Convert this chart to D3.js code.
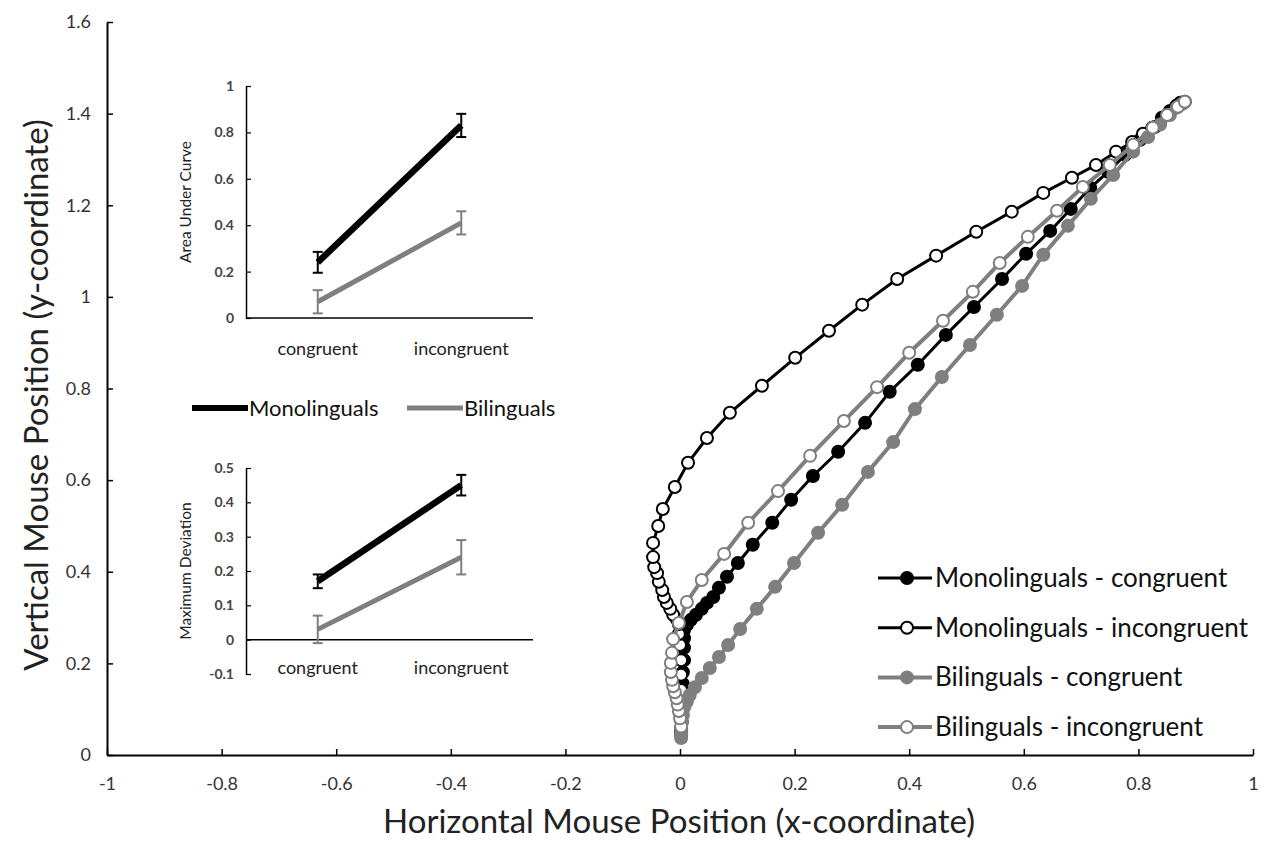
<!DOCTYPE html>
<html>
<head>
<meta charset="utf-8">
<script src="https://cdn.jsdelivr.net/npm/d3@7"></script>
<style>
  body { margin: 0; background: #fff; }
  text { font-family: Lato, "Open Sans", sans-serif; }
</style>
</head>
<body>
<div id="chart"></div>
<script>
// trajectories, [x, y] in normalised mouse coordinates
var monoCong = [[0.002,0.050],[0.002,0.059],[0.003,0.072],[0.003,0.090],[0.005,0.109],[0.005,0.131],[0.005,0.155],[0.005,0.181],[0.007,0.207],[0.007,0.234],[0.007,0.255],[0.007,0.273],[0.012,0.284],[0.019,0.295],[0.028,0.306],[0.038,0.319],[0.047,0.332],[0.058,0.345],[0.068,0.365],[0.082,0.389],[0.101,0.419],[0.127,0.459],[0.161,0.507],[0.194,0.557],[0.232,0.609],[0.276,0.662],[0.323,0.725],[0.366,0.793],[0.415,0.852],[0.464,0.917],[0.513,0.978],[0.562,1.039],[0.604,1.094],[0.646,1.144],[0.682,1.192],[0.716,1.238],[0.747,1.273],[0.777,1.310],[0.803,1.343],[0.824,1.369],[0.841,1.391],[0.855,1.406],[0.866,1.417],[0.873,1.424]];
var monoIncong = [[0.002,0.044],[0.002,0.076],[0.002,0.109],[0.002,0.142],[0.002,0.175],[0.002,0.207],[0.000,0.240],[-0.002,0.264],[-0.002,0.286],[-0.005,0.295],[-0.012,0.306],[-0.017,0.319],[-0.023,0.332],[-0.028,0.345],[-0.031,0.360],[-0.037,0.378],[-0.040,0.397],[-0.045,0.410],[-0.047,0.432],[-0.047,0.463],[-0.038,0.500],[-0.030,0.537],[-0.009,0.585],[0.014,0.638],[0.047,0.692],[0.087,0.747],[0.143,0.806],[0.201,0.867],[0.260,0.926],[0.318,0.983],[0.379,1.039],[0.447,1.090],[0.517,1.142],[0.579,1.186],[0.634,1.227],[0.684,1.260],[0.726,1.288],[0.761,1.317],[0.789,1.338],[0.808,1.356],[0.829,1.371],[0.850,1.397],[0.867,1.415],[0.881,1.426]];
var biCong = [[0.002,0.037],[0.002,0.046],[0.002,0.055],[0.003,0.072],[0.005,0.087],[0.007,0.103],[0.012,0.116],[0.017,0.131],[0.026,0.148],[0.038,0.168],[0.052,0.190],[0.068,0.214],[0.084,0.240],[0.105,0.275],[0.134,0.319],[0.166,0.367],[0.199,0.419],[0.241,0.485],[0.283,0.546],[0.328,0.618],[0.372,0.683],[0.410,0.755],[0.457,0.825],[0.506,0.895],[0.553,0.961],[0.597,1.024],[0.634,1.092],[0.677,1.155],[0.717,1.214],[0.756,1.266],[0.791,1.317],[0.817,1.349],[0.838,1.376],[0.855,1.397],[0.867,1.413],[0.876,1.421]];
var biIncong = [[0.002,0.062],[0.000,0.080],[-0.002,0.096],[-0.004,0.110],[-0.006,0.124],[-0.009,0.137],[-0.012,0.150],[-0.014,0.164],[-0.016,0.181],[-0.016,0.201],[-0.014,0.223],[-0.012,0.253],[-0.002,0.288],[0.012,0.334],[0.038,0.382],[0.077,0.439],[0.119,0.507],[0.171,0.576],[0.227,0.653],[0.286,0.729],[0.344,0.803],[0.400,0.878],[0.459,0.948],[0.511,1.011],[0.558,1.074],[0.607,1.131],[0.658,1.188],[0.703,1.240],[0.750,1.288],[0.791,1.332],[0.825,1.369],[0.850,1.397],[0.869,1.415],[0.881,1.426]];

var seriesNames = ["Monolinguals - congruent", "Monolinguals - incongruent", "Bilinguals - congruent", "Bilinguals - incongruent"];

var xTicks = [-1, -0.8, -0.6, -0.4, -0.2, 0, 0.2, 0.4, 0.6, 0.8, 1];
var yTicks = [0, 0.2, 0.4, 0.6, 0.8, 1, 1.2, 1.4, 1.6];

// inset data (means and error half-widths)
var insetCats = ["congruent", "incongruent"];
var groupNames = ["Monolinguals", "Bilinguals"];
var aucMono = [0.24, 0.83];
var aucMonoErr = [0.045, 0.05];
var aucBi = [0.07, 0.41];
var aucBiErr = [0.05, 0.05];
var mdMono = [0.17, 0.45];
var mdMonoErr = [0.02, 0.03];
var mdBi = [0.03, 0.24];
var mdBiErr = [0.04, 0.05];
var aucTicks = [0, 0.2, 0.4, 0.6, 0.8, 1];
var mdTicks = [-0.1, 0, 0.1, 0.2, 0.3, 0.4, 0.5];

var svgWidth = 1269;
var svgHeight = 848;
var black = "#000";
var grey = "#7f7f7f";
var plain = d => String(d);   // hyphen minus, like the original

var svg = d3.select("#chart").append("svg")
  .attr("width", svgWidth)
  .attr("height", svgHeight);

// main scales
var x = d3.scaleLinear().domain([-1, 1]).range([107, 1253]);
var y = d3.scaleLinear().domain([0, 1.6]).range([755, 22]);

var xAxis = svg.append("g")
  .attr("transform", "translate(0,755)")
  .call(d3.axisBottom(x).tickValues(xTicks).tickSizeInner(-6).tickSizeOuter(0).tickFormat(plain));
var yAxis = svg.append("g")
  .attr("transform", "translate(107,0)")
  .call(d3.axisLeft(y).tickValues(yTicks).tickSizeInner(-6).tickSizeOuter(0).tickFormat(plain));

[xAxis, yAxis].forEach(function(a) {
  a.select(".domain").attr("stroke", black).attr("stroke-width", 2);
  a.selectAll(".tick line").attr("stroke", black).attr("stroke-width", 1.5);
  a.selectAll(".tick text").attr("fill", "#333").style("font-size", "18px");
});
xAxis.selectAll(".tick text").attr("y", 22);
yAxis.selectAll(".tick text").attr("x", -16);

svg.append("text")
  .attr("x", 679).attr("y", 833)
  .attr("text-anchor", "middle")
  .style("font-size", "33px").attr("fill", "#222")
  .text("Horizontal Mouse Position (x-coordinate)");
svg.append("text")
  .attr("transform", "translate(48,395) rotate(-90)")
  .attr("text-anchor", "middle")
  .style("font-size", "33px").attr("fill", "#222")
  .text("Vertical Mouse Position (y-coordinate)");

// trajectories
var traj = [
  { data: monoCong, color: black, fill: black, w: 3 },
  { data: monoIncong, color: black, fill: "#fff", w: 3 },
  { data: biCong, color: grey, fill: grey, w: 4 },
  { data: biIncong, color: grey, fill: "#fff", w: 4 }
];

var line = d3.line().x(d => x(d[0])).y(d => y(d[1]));

traj.forEach(function(s) {
  var g = svg.append("g");
  g.append("path")
    .datum(s.data)
    .attr("d", line)
    .attr("fill", "none")
    .attr("stroke", s.color)
    .attr("stroke-width", s.w);
  g.selectAll("circle")
    .data(s.data)
    .enter()
    .append("circle")
    .attr("cx", d => x(d[0]))
    .attr("cy", d => y(d[1]))
    .attr("r", 6)
    .attr("fill", s.fill)
    .attr("stroke", s.color)
    .attr("stroke-width", 2);
});

// main legend
var legend = svg.append("g").attr("transform", "translate(878,578)");
seriesNames.forEach(function(name, i) {
  var row = legend.append("g").attr("transform", `translate(0, ${i * 49.7})`);
  row.append("line")
    .attr("x1", 0).attr("x2", 54)
    .attr("stroke", traj[i].color).attr("stroke-width", traj[i].w);
  row.append("circle")
    .attr("cx", 29).attr("r", 6)
    .attr("fill", traj[i].fill).attr("stroke", traj[i].color).attr("stroke-width", 2);
  row.append("text")
    .attr("x", 57).attr("y", 9)
    .style("font-size", "26px").attr("fill", "#111")
    .text(name);
});

// inset helper
function drawInset(top, bottom, domain, ticks, mono, monoErr, bi, biErr, label, catY) {
  var ix = d3.scaleBand().domain(insetCats).range([246, 533]);
  var iy = d3.scaleLinear().domain(domain).range([bottom, top]);
  var g = svg.append("g");

  var ya = g.append("g")
    .attr("transform", "translate(246,0)")
    .call(d3.axisLeft(iy).tickValues(ticks).tickSizeInner(-5).tickSizeOuter(0).tickFormat(plain));
  ya.select(".domain").attr("stroke", black).attr("stroke-width", 1.5);
  ya.selectAll(".tick line").attr("stroke", black).attr("stroke-width", 1.2);
  ya.selectAll(".tick text").attr("x", -12).attr("fill", "#444")
    .style("font-size", "14px").style("font-weight", "bold");

  g.append("line")
    .attr("x1", 246).attr("x2", 533)
    .attr("y1", iy(0)).attr("y2", iy(0))
    .attr("stroke", black).attr("stroke-width", 1.5);

  insetCats.forEach(function(c) {
    g.append("text")
      .attr("x", ix(c) + ix.bandwidth() / 2).attr("y", catY)
      .attr("text-anchor", "middle")
      .style("font-size", "18px").attr("fill", "#222")
      .text(c);
  });

  g.append("text")
    .attr("transform", `translate(191, ${(top + bottom) / 2}) rotate(-90)`)
    .attr("text-anchor", "middle")
    .style("font-size", "15.5px").attr("fill", "#222")
    .text(label);

  [[mono, monoErr, black, 6.5], [bi, biErr, grey, 5]].forEach(function(s) {
    var pts = insetCats.map((c, i) => [ix(c) + ix.bandwidth() / 2, iy(s[0][i]), s[1][i], s[0][i]]);
    g.append("path")
      .datum(pts)
      .attr("d", d3.line().x(d => d[0]).y(d => d[1]))
      .attr("stroke", s[2]).attr("stroke-width", s[3]).attr("fill", "none");
    pts.forEach(function(p) {
      var y1 = iy(p[3] - p[2]), y2 = iy(p[3] + p[2]);
      g.append("line").attr("x1", p[0]).attr("x2", p[0]).attr("y1", y1).attr("y2", y2)
        .attr("stroke", s[2]).attr("stroke-width", 2);
      [y1, y2].forEach(function(yy) {
        g.append("line").attr("x1", p[0] - 5).attr("x2", p[0] + 5).attr("y1", yy).attr("y2", yy)
          .attr("stroke", s[2]).attr("stroke-width", 2);
      });
    });
  });
}

drawInset(86, 318, [0, 1], aucTicks, aucMono, aucMonoErr, aucBi, aucBiErr, "Area Under Curve", 355);
drawInset(468, 674, [-0.1, 0.5], mdTicks, mdMono, mdMonoErr, mdBi, mdBiErr, "Maximum Deviation", 674);

// inset legend
var insetLegend = [[192, black, 6], [407, grey, 5]];
groupNames.forEach(function(name, i) {
  var lx = insetLegend[i][0];
  svg.append("line")
    .attr("x1", lx).attr("x2", lx + 56)
    .attr("y1", 408).attr("y2", 408)
    .attr("stroke", insetLegend[i][1]).attr("stroke-width", insetLegend[i][2]);
  svg.append("text")
    .attr("x", lx + 57).attr("y", 416)
    .style("font-size", "22px").attr("fill", "#111")
    .text(name);
});
</script>
</body>
</html>
